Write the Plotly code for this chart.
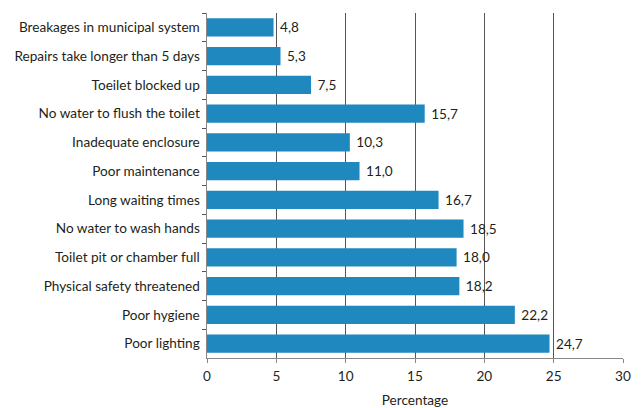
import plotly.graph_objects as go

categories = [
    "Breakages in municipal system",
    "Repairs take longer than 5 days",
    "Toeilet blocked up",
    "No water to flush the toilet",
    "Inadequate enclosure",
    "Poor maintenance",
    "Long waiting times",
    "No water to wash hands",
    "Toilet pit or chamber full",
    "Physical safety threatened",
    "Poor hygiene",
    "Poor lighting",
]
values = [4.8, 5.3, 7.5, 15.7, 10.3, 11.0, 16.7, 18.5, 18.0, 18.2, 22.2, 24.7]
x_ticks = [0, 5, 10, 15, 20, 25, 30]

labels = [" " + f"{v:.1f}".replace(".", ",") for v in values]
font_family = "Lato, Open Sans, sans-serif"
text_color = "#231f20"
fs = 13.6

fig = go.Figure(go.Bar(
    y=categories, x=values, orientation="h",
    marker=dict(color="#1f88bf", line=dict(width=0)),
    text=labels, textposition="outside", cliponaxis=False,
    textfont=dict(family=font_family, size=fs, color=text_color),
))

fig.update_layout(
    width=641, height=408,
    margin=dict(l=207, r=18, t=13, b=50, autoexpand=False),
    paper_bgcolor="white", plot_bgcolor="white",
    bargap=0.36,
    showlegend=False,
    font=dict(family=font_family, size=fs, color=text_color),
    xaxis=dict(
        range=[0, 30], tickvals=x_ticks, ticktext=[str(t) for t in x_ticks],
        showgrid=True, gridcolor="#555555", gridwidth=1,
        zeroline=False, showline=True, linecolor="#888888", linewidth=1,
        ticks="outside", ticklen=4, tickcolor="#888888",
        ticklabelstandoff=2, automargin=False,
        title=dict(text="Percentage", standoff=14, font=dict(size=fs)),
        mirror=False,
    ),
    yaxis=dict(
        autorange="reversed", showgrid=False, automargin=False,
        showline=True, linecolor="#888888", linewidth=1,
        ticks="outside", ticklen=4, tickcolor="#555555", tickson="boundaries",
        ticksuffix=" ",
    ),
)

fig.write_html("out.html")
